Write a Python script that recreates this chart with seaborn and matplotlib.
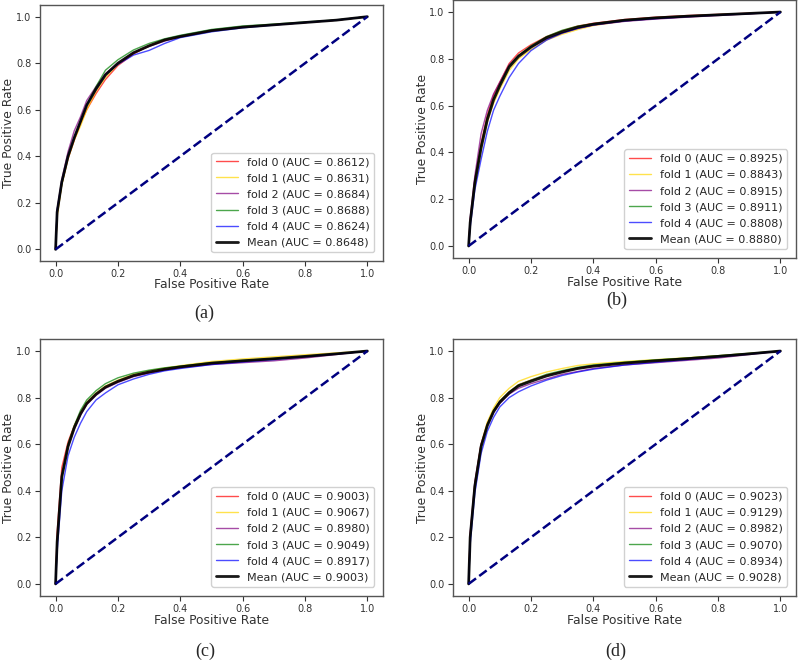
import matplotlib
matplotlib.use("Agg")
import matplotlib.pyplot as plt
import seaborn as sns

sns.set_style("ticks")
plt.rcParams['font.family'] = ['DejaVu Sans']

# 公共的假阳性率网格
fpr = [0, 0.005, 0.02, 0.04, 0.06, 0.08, 0.1, 0.13, 0.16, 0.2,
       0.25, 0.3, 0.35, 0.4, 0.5, 0.6, 0.7, 0.8, 0.9, 1.0]

names = ['fold 0', 'fold 1', 'fold 2', 'fold 3', 'fold 4', 'Mean']
colors = ['red', 'gold', 'purple', 'green', 'blue', 'black']
panel_tags = ['(a)', '(b)', '(c)', '(d)']

# (a)
auc_a = [0.8612, 0.8631, 0.8684, 0.8688, 0.8624, 0.8648]
tpr_a = [
    [0, 0.15, 0.28, 0.39, 0.47, 0.54, 0.60, 0.67, 0.73, 0.79, 0.84, 0.875, 0.90, 0.915, 0.94, 0.955, 0.965, 0.975, 0.985, 1.0],
    [0, 0.14, 0.28, 0.39, 0.47, 0.53, 0.60, 0.68, 0.74, 0.795, 0.845, 0.875, 0.898, 0.915, 0.94, 0.956, 0.966, 0.975, 0.985, 1.0],
    [0, 0.17, 0.30, 0.42, 0.51, 0.57, 0.64, 0.70, 0.755, 0.80, 0.845, 0.872, 0.895, 0.913, 0.94, 0.955, 0.965, 0.975, 0.985, 1.0],
    [0, 0.16, 0.28, 0.40, 0.48, 0.55, 0.62, 0.70, 0.77, 0.815, 0.857, 0.885, 0.905, 0.92, 0.945, 0.96, 0.968, 0.977, 0.986, 1.0],
    [0, 0.17, 0.29, 0.40, 0.48, 0.55, 0.62, 0.69, 0.75, 0.795, 0.835, 0.855, 0.885, 0.91, 0.935, 0.952, 0.964, 0.975, 0.985, 1.0],
    [0, 0.16, 0.29, 0.40, 0.48, 0.55, 0.62, 0.69, 0.75, 0.80, 0.845, 0.875, 0.90, 0.915, 0.94, 0.955, 0.965, 0.975, 0.985, 1.0],
]

# (b)
auc_b = [0.8925, 0.8843, 0.8915, 0.8911, 0.8808, 0.8880]
tpr_b = [
    [0, 0.11, 0.28, 0.44, 0.56, 0.645, 0.70, 0.78, 0.825, 0.86, 0.895, 0.92, 0.94, 0.952, 0.968, 0.978, 0.985, 0.99, 0.995, 1.0],
    [0, 0.09, 0.26, 0.41, 0.53, 0.61, 0.67, 0.75, 0.80, 0.84, 0.88, 0.905, 0.925, 0.942, 0.962, 0.973, 0.98, 0.987, 0.993, 1.0],
    [0, 0.12, 0.30, 0.48, 0.58, 0.65, 0.70, 0.775, 0.815, 0.85, 0.885, 0.91, 0.93, 0.944, 0.96, 0.97, 0.978, 0.985, 0.992, 1.0],
    [0, 0.10, 0.27, 0.43, 0.55, 0.63, 0.69, 0.77, 0.815, 0.855, 0.895, 0.922, 0.94, 0.95, 0.966, 0.976, 0.983, 0.989, 0.994, 1.0],
    [0, 0.08, 0.24, 0.37, 0.49, 0.58, 0.64, 0.72, 0.78, 0.835, 0.88, 0.91, 0.93, 0.945, 0.962, 0.972, 0.98, 0.987, 0.993, 1.0],
    [0, 0.10, 0.27, 0.42, 0.54, 0.625, 0.685, 0.765, 0.81, 0.85, 0.89, 0.915, 0.935, 0.948, 0.965, 0.975, 0.982, 0.988, 0.994, 1.0],
]

# (c)
auc_c = [0.9003, 0.9067, 0.8980, 0.9049, 0.8917, 0.9003]
tpr_c = [
    [0, 0.22, 0.50, 0.61, 0.68, 0.735, 0.775, 0.815, 0.845, 0.87, 0.893, 0.908, 0.92, 0.93, 0.946, 0.956, 0.966, 0.976, 0.987, 1.0],
    [0, 0.17, 0.45, 0.59, 0.675, 0.735, 0.78, 0.82, 0.85, 0.875, 0.9, 0.915, 0.927, 0.937, 0.955, 0.966, 0.975, 0.984, 0.992, 1.0],
    [0, 0.18, 0.46, 0.59, 0.665, 0.725, 0.77, 0.81, 0.84, 0.865, 0.89, 0.905, 0.918, 0.928, 0.942, 0.95, 0.958, 0.97, 0.985, 1.0],
    [0, 0.17, 0.46, 0.60, 0.68, 0.745, 0.79, 0.83, 0.86, 0.885, 0.905, 0.918, 0.928, 0.935, 0.95, 0.96, 0.968, 0.978, 0.988, 1.0],
    [0, 0.14, 0.40, 0.55, 0.63, 0.69, 0.74, 0.79, 0.82, 0.855, 0.88, 0.9, 0.915, 0.925, 0.942, 0.953, 0.963, 0.975, 0.987, 1.0],
    [0, 0.18, 0.46, 0.59, 0.67, 0.73, 0.775, 0.815, 0.845, 0.87, 0.895, 0.91, 0.922, 0.932, 0.948, 0.958, 0.967, 0.977, 0.988, 1.0],
]

# (d)
auc_d = [0.9023, 0.9129, 0.8982, 0.9070, 0.8934, 0.9028]
tpr_d = [
    [0, 0.21, 0.43, 0.60, 0.69, 0.745, 0.785, 0.825, 0.855, 0.875, 0.897, 0.912, 0.926, 0.936, 0.949, 0.959, 0.968, 0.978, 0.988, 1.0],
    [0, 0.20, 0.43, 0.60, 0.695, 0.755, 0.80, 0.84, 0.87, 0.89, 0.91, 0.925, 0.938, 0.945, 0.955, 0.963, 0.971, 0.98, 0.99, 1.0],
    [0, 0.22, 0.44, 0.60, 0.68, 0.735, 0.775, 0.815, 0.84, 0.86, 0.88, 0.90, 0.912, 0.925, 0.94, 0.95, 0.96, 0.97, 0.985, 1.0],
    [0, 0.19, 0.42, 0.59, 0.685, 0.745, 0.785, 0.825, 0.855, 0.875, 0.90, 0.916, 0.93, 0.94, 0.952, 0.962, 0.97, 0.98, 0.99, 1.0],
    [0, 0.17, 0.39, 0.56, 0.655, 0.715, 0.76, 0.80, 0.825, 0.85, 0.875, 0.895, 0.91, 0.922, 0.94, 0.952, 0.963, 0.975, 0.987, 1.0],
    [0, 0.20, 0.42, 0.59, 0.68, 0.74, 0.78, 0.82, 0.85, 0.87, 0.893, 0.91, 0.925, 0.935, 0.948, 0.958, 0.967, 0.977, 0.988, 1.0],
]

all_tpr = [tpr_a, tpr_b, tpr_c, tpr_d]
all_auc = [auc_a, auc_b, auc_c, auc_d]

# 每个子图的位置 [left, bottom, width, height]
axes_pos = [
    [0.0501, 0.6063, 0.4298, 0.3861],
    [0.5677, 0.6113, 0.4298, 0.3882],
    [0.0501, 0.1017, 0.4298, 0.3864],
    [0.5677, 0.1017, 0.4298, 0.3864],
]
# 坐标轴标题位置 (轴坐标)
ylab_x = [-0.073, -0.070, -0.073, -0.070]
xlab_y = [-0.066, -0.070, -0.072, -0.072]
# (a)(b)(c)(d) 标签的像素位置
tag_pos = [(204, 313), (617, 300), (205, 651), (616, 651)]

fig = plt.figure(figsize=(7.98, 6.63), dpi=100)

for k in range(4):
    ax = fig.add_axes(axes_pos[k])
    for i in range(6):
        lab = '%s (AUC = %.4f)' % (names[i], all_auc[k][i])
        if i < 5:
            sns.lineplot(x=fpr, y=all_tpr[k][i], ax=ax, color=colors[i],
                         lw=1, alpha=0.7, label=lab)
        else:
            sns.lineplot(x=fpr, y=all_tpr[k][i], ax=ax, color=colors[i],
                         lw=2, alpha=0.9, label=lab)
    sns.lineplot(x=[0, 1], y=[0, 1], ax=ax, color='navy', lw=1.8,
                 linestyle='--')
    ax.set_xlim(-0.05, 1.05)
    ax.set_ylim(-0.05, 1.05)
    ax.set_xticks([0, 0.2, 0.4, 0.6, 0.8, 1.0])
    ax.set_yticks([0, 0.2, 0.4, 0.6, 0.8, 1.0])
    ax.tick_params(labelsize=7.0, colors='#333333', length=3.5, width=0.8,
                   pad=2.5)
    ax.set_xlabel('False Positive Rate', fontsize=8.9, color='#333333')
    ax.set_ylabel('True Positive Rate', fontsize=8.9, color='#333333')
    ax.yaxis.set_label_coords(ylab_x[k], 0.5)
    ax.xaxis.set_label_coords(0.5, xlab_y[k])
    for sp in ax.spines.values():
        sp.set_color('#555555')
        sp.set_linewidth(1.0)
    ax.legend(loc='lower right', fontsize=8.0, borderaxespad=0.8,
              labelspacing=0.55, framealpha=0.9, edgecolor='#cccccc')
    fig.text(tag_pos[k][0] / 798, 1 - tag_pos[k][1] / 663, panel_tags[k],
             ha='center', va='center', family='Liberation Serif', fontsize=13)

plt.savefig('out.png', dpi=100)
